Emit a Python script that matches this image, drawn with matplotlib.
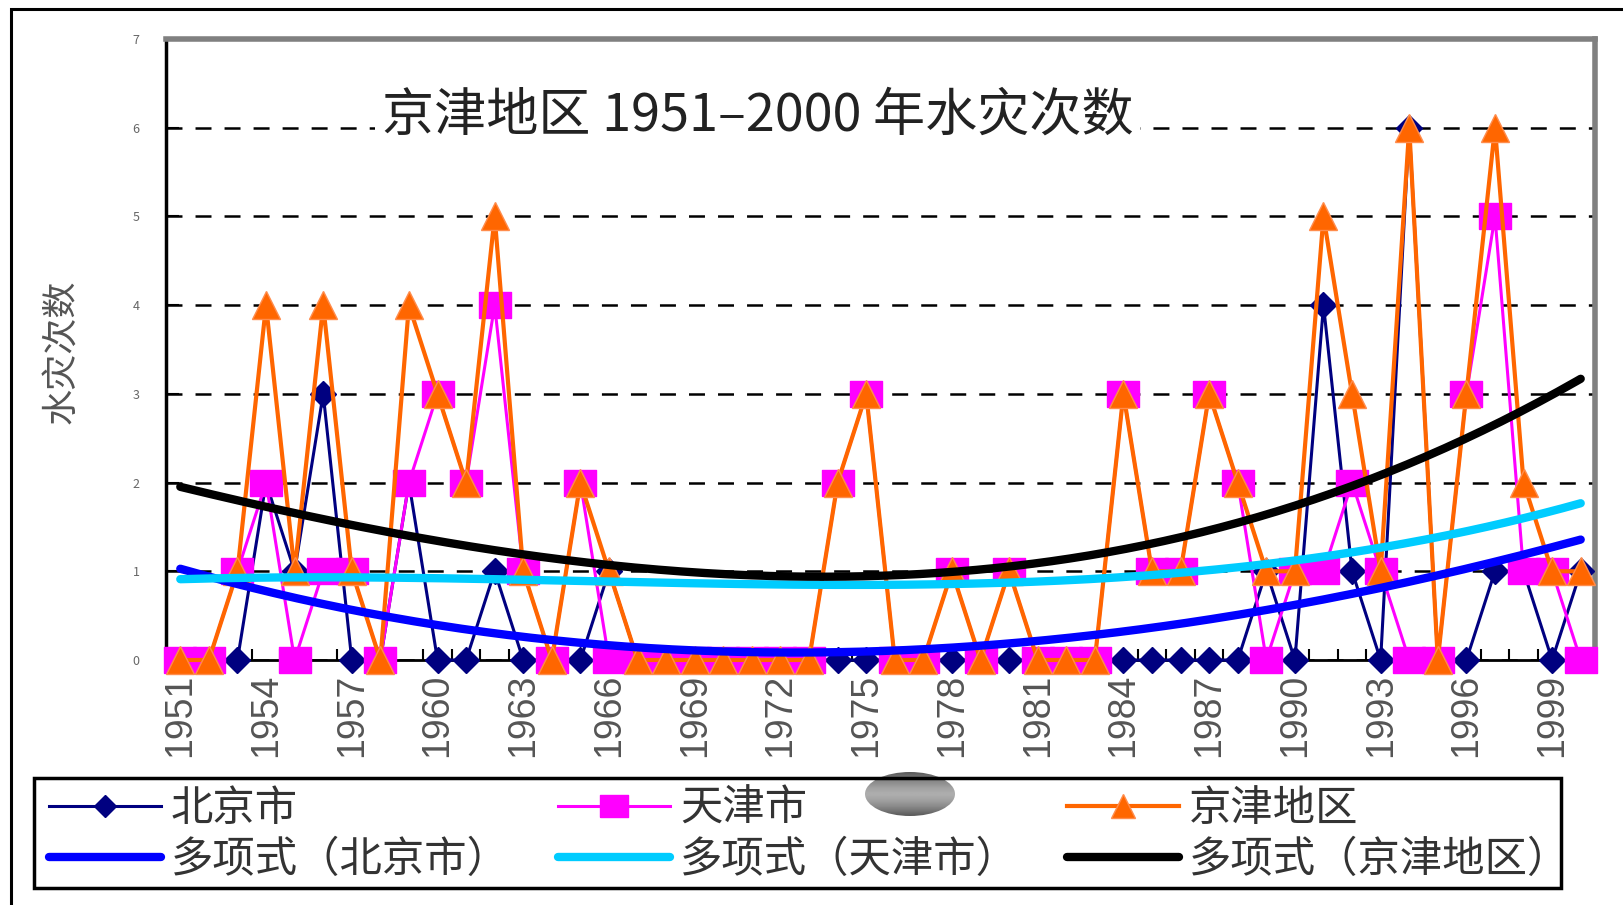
import numpy as np
import matplotlib.pyplot as plt
from matplotlib.patches import Rectangle, Ellipse

plt.rcParams['font.family'] = ['Noto Sans CJK SC', 'DejaVu Sans']
plt.rcParams['lines.scale_dashes'] = False

# 京津地区 1951-2000 年水灾次数
years = list(range(1951, 2001))
beijing = [0, 0, 0, 2, 1, 3, 0, 0, 2, 0,
           0, 1, 0, 0, 0, 1, 0, 0, 0, 0,
           0, 0, 0, 0, 0, 0, 0, 0, 0, 0,
           0, 0, 0, 0, 0, 0, 0, 0, 1, 0,
           4, 1, 0, 6, 0, 0, 1, 1, 0, 1]
tianjin = [0, 0, 1, 2, 0, 1, 1, 0, 2, 3,
           2, 4, 1, 0, 2, 0, 0, 0, 0, 0,
           0, 0, 0, 2, 3, 0, 0, 1, 0, 1,
           0, 0, 0, 3, 1, 1, 3, 2, 0, 1,
           1, 2, 1, 0, 0, 3, 5, 1, 1, 0]
jingjin = [0, 0, 1, 4, 1, 4, 1, 0, 4, 3,
           2, 5, 1, 0, 2, 1, 0, 0, 0, 0,
           0, 0, 0, 2, 3, 0, 0, 1, 0, 1,
           0, 0, 0, 3, 1, 1, 3, 2, 1, 1,
           5, 3, 1, 6, 0, 3, 6, 2, 1, 1]
tick_years = list(range(1951, 2001, 3))

# 多项式趋势线，数值读自原图
trend_years = [1951, 1964, 1975, 1984, 1990, 1996, 2000]
trend_bj = [1.03, 0.22, 0.10, 0.33, 0.61, 1.03, 1.36]
trend_tj = [0.91, 0.90, 0.85, 0.92, 1.13, 1.46, 1.76]
trend_jj = [1.95, 1.15, 0.96, 1.21, 1.74, 2.55, 3.14]

W, H = 1624, 905
fig = plt.figure(figsize=(W / 100, H / 100), dpi=100)
ax = fig.add_axes([166 / W, 1 - 660 / H, 1429 / W, 621 / H])

rect = [(-1.2, -1), (1.2, -1), (1.2, 1), (-1.2, 1), (-1.2, -1)]
l_bj, = ax.plot(years, beijing, color='#000080', lw=2.2, marker='D', ms=13.5,
                mfc='#000080', mec='#000080', zorder=3, clip_on=False)
l_tj, = ax.plot(years, tianjin, color='#FF00FF', lw=2.2, marker=rect, ms=23,
                mfc='#FF00FF', mec='#FF00FF', zorder=4, clip_on=False)
l_jj, = ax.plot(years, jingjin, color='#FF6600', lw=3, marker='^', ms=20,
                mfc='#FF6600', mec='#FF8C4C', mew=1, zorder=5, clip_on=False)

xs = np.linspace(1951, 2000, 300)
trend = []
for vals, c in [(trend_bj, '#0000FF'), (trend_tj, '#00CCFF'),
                (trend_jj, 'black')]:
    coef = np.polyfit(np.array(trend_years) - 1975, vals, 3)
    line, = ax.plot(xs, np.polyval(coef, xs - 1975), color=c, lw=6,
                    solid_capstyle='round', zorder=6)
    trend.append(line)

ax.set_xlim(1950.5, 2000.5)
ax.set_ylim(0, 7)
ax.set_yticks(range(8))
ax.set_xticks(tick_years)
ax.set_xticks(np.arange(1950.5, 2001, 1), minor=True)
ax.set_xticklabels([str(y) for y in tick_years], rotation=90, fontsize=27,
                   color='#555', family='Liberation Sans')
ax.tick_params(axis='x', which='major', length=0, pad=10)
ax.tick_params(axis='x', which='minor', direction='in', length=8, width=1.5)
ax.tick_params(axis='y', direction='in', length=9, width=1.5, pad=19,
               labelsize=9, labelcolor='#666')
ax.grid(axis='y', color='black', lw=1.8, linestyle=(0, (11.5, 9.4)))
ax.set_axisbelow(True)
for s in ['top', 'right']:
    ax.spines[s].set_color('#808080')
    ax.spines[s].set_linewidth(4)
ax.spines['left'].set_linewidth(2.5)
ax.spines['bottom'].set_linewidth(2)

ax.text(0.414, 0.877, '京津地区 1951–2000 年水灾次数', transform=ax.transAxes,
        ha='center', va='center', fontsize=37.5, color='#222', zorder=8,
        bbox=dict(fc='white', ec='none', pad=5))
fig.text(62 / W, 1 - 352 / H, '水灾次数', rotation=90, ha='center',
         va='center', fontsize=26, color='#555')

handles = [l_bj, trend[0], l_tj, trend[1], l_jj, trend[2]]
labels = ['北京市', '多项式（北京市）', '天津市', '多项式（天津市）',
          '京津地区', '多项式（京津地区）']
fig.legend(handles, labels, ncol=3, loc='center left',
           bbox_to_anchor=(49 / W, 1 - 834.5 / H), frameon=False,
           fontsize=30.5, handlelength=2.64, handletextpad=0.24,
           columnspacing=1.13, labelspacing=0.18, borderpad=0,
           borderaxespad=0, labelcolor='#333', markerscale=0.85)

# 图例外框与外框
fig.add_artist(Rectangle((34 / W, 1 - 888 / H), 1527 / W, 110 / H,
                         transform=fig.transFigure, fill=False, lw=2.5,
                         ec='black'))
fig.add_artist(Rectangle((11 / W, -0.05), 1.1, 1.05 - 9 / H,
                         transform=fig.transFigure, fill=False, lw=2.2,
                         ec='black'))

# 灰色椭圆
eax = fig.add_axes([(910 - 45) / W, 1 - 816 / H, 90 / W, 44 / H])
eax.axis('off')
g = 0.68 - 0.33 * np.abs(np.linspace(-1, 1, 64)) ** 1.5
im = eax.imshow(g[:, None] * np.ones((1, 64)), cmap='gray', vmin=0, vmax=1,
                extent=[0, 1, 0, 1], aspect='auto')
im.set_clip_path(Ellipse((0.5, 0.5), 1, 1, transform=eax.transAxes))

fig.savefig('out.png', dpi=100)
